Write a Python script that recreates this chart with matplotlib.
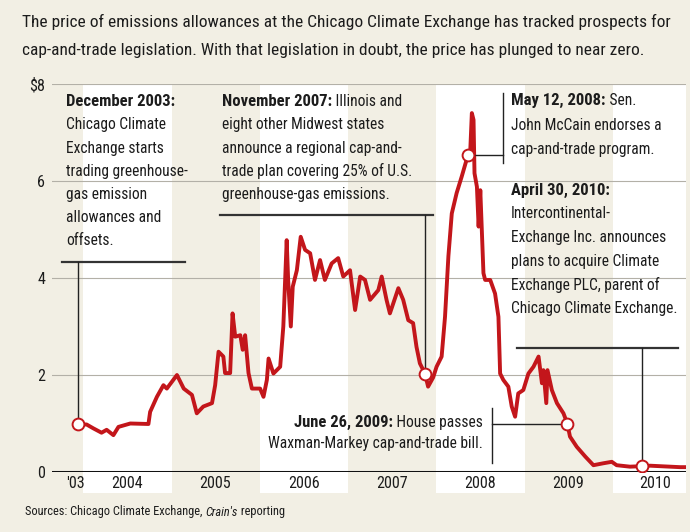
import datetime as dt

import matplotlib
matplotlib.use("Agg")
import matplotlib.pyplot as plt
from matplotlib import font_manager

# ---- data ----
dates = ['2003-12-12', '2004-01-15', '2004-02-12', '2004-03-17', '2004-04-07', '2004-05-05',
         '2004-05-26', '2004-07-14', '2004-09-27', '2004-10-04', '2004-11-01', '2004-11-28',
         '2004-12-12', '2005-01-23', '2005-02-20', '2005-03-26', '2005-04-15', '2005-05-12',
         '2005-06-17', '2005-06-30', '2005-07-14', '2005-08-03', '2005-08-10', '2005-08-31',
         '2005-09-10', '2005-09-21', '2005-10-12', '2005-10-22', '2005-11-01', '2005-11-15',
         '2005-11-29', '2006-01-02', '2006-01-16', '2006-01-30', '2006-02-06', '2006-02-26',
         '2006-03-26', '2006-04-08', '2006-04-22', '2006-04-28', '2006-05-09', '2006-05-17',
         '2006-06-03', '2006-06-19', '2006-07-07', '2006-07-28', '2006-08-17', '2006-09-07',
         '2006-09-27', '2006-10-25', '2006-11-21', '2006-12-12', '2007-01-09', '2007-01-30',
         '2007-02-20', '2007-03-12', '2007-04-02', '2007-05-06', '2007-05-20', '2007-06-09',
         '2007-06-23', '2007-07-28', '2007-08-17', '2007-09-07', '2007-09-27', '2007-10-11',
         '2007-10-25', '2007-11-15', '2007-11-28', '2007-12-19', '2008-01-02', '2008-01-23',
         '2008-02-06', '2008-02-20', '2008-03-05', '2008-03-25', '2008-04-15', '2008-05-03',
         '2008-05-12', '2008-05-20', '2008-05-27', '2008-06-03', '2008-06-07', '2008-06-17',
         '2008-06-24', '2008-07-01', '2008-07-14', '2008-07-21', '2008-08-11', '2008-08-31',
         '2008-09-14', '2008-09-21', '2008-10-04', '2008-10-25', '2008-11-08', '2008-11-22',
         '2008-12-05', '2008-12-26', '2009-01-16', '2009-02-06', '2009-02-27', '2009-03-13',
         '2009-03-19', '2009-03-31', '2009-04-05', '2009-04-23', '2009-05-14', '2009-06-10',
         '2009-06-26', '2009-07-07', '2009-08-04', '2009-09-08', '2009-10-12', '2009-11-22',
         '2009-12-27', '2010-01-16', '2010-03-12', '2010-04-30', '2010-06-03', '2010-10-05',
         '2010-10-28']
prices = [0.98, 0.98, 0.90, 0.81, 0.87, 0.76,
          0.93, 1.00, 0.99, 1.24, 1.55, 1.79,
          1.72, 2.00, 1.72, 1.59, 1.21, 1.35,
          1.42, 1.79, 2.48, 2.38, 2.04, 2.04,
          3.27, 2.79, 2.82, 2.52, 2.82, 2.04,
          1.72, 1.72, 1.55, 1.90, 2.34, 2.03,
          2.17, 3.00, 4.78, 3.96, 3.00, 3.82,
          4.16, 4.85, 4.58, 4.51, 3.96, 4.37,
          3.96, 4.30, 4.41, 4.03, 4.16, 3.34,
          4.03, 3.96, 3.55, 3.75, 4.03, 3.55,
          3.27, 3.79, 3.55, 3.13, 3.07, 2.58,
          2.24, 2.03, 1.76, 1.95, 2.17, 2.38,
          3.20, 4.45, 5.33, 5.75, 6.09, 6.40,
          6.54, 6.57, 7.40, 7.26, 6.16, 5.88,
          5.06, 5.81, 4.10, 3.96, 3.96, 3.68,
          3.20, 2.03, 1.90, 1.76, 1.35, 1.14,
          1.62, 1.69, 2.03, 2.17, 2.38, 1.83,
          2.10, 1.42, 2.10, 1.69, 1.42, 1.21,
          1.00, 0.73, 0.52, 0.32, 0.14, 0.18,
          0.21, 0.14, 0.11, 0.12, 0.13, 0.10,
          0.10]

event_dates = ['2003-12-12', '2007-11-15', '2008-05-12', '2009-06-26', '2010-04-30']
event_values = [0.98, 2.03, 6.54, 1.00, 0.12]

year_tick_dates = ['2003-11-28', '2004-07-01', '2005-07-01', '2006-07-01', '2007-07-01',
                   '2008-07-01', '2009-07-01', '2010-06-25']
year_tick_labels = ["'03", '2004', '2005', '2006', '2007', '2008', '2009', '2010']
band_years = [2004, 2006, 2008, 2010]
y_ticks = [0, 2, 4, 6, 8]
y_tick_labels = ['0', '2', '4', '6', '$8']

title_lines = ['The price of emissions allowances at the Chicago Climate Exchange has tracked prospects for',
               'cap-and-trade legislation. With that legislation in doubt, the price has plunged to near zero.']


def d(s):
    return dt.datetime.strptime(s, '%Y-%m-%d')


# ---- font: prefer a condensed face if one is installed ----
fm = font_manager.fontManager
FONT, STRETCH = 'DejaVu Sans', 'normal'
narrow = [f for f in fm.ttflist
          if f.stretch in ('condensed', 'semi-condensed', 'extra-condensed')
          or 'Narrow' in f.name or 'Condensed' in f.name]
for fam in ['Liberation Sans Narrow', 'Roboto Condensed', 'Open Sans Condensed',
            'Noto Sans Condensed', 'Roboto', 'Open Sans', 'Noto Sans', 'DejaVu Sans']:
    hit = [f for f in narrow if f.name == fam]
    if hit:
        FONT = fam
        STRETCH = hit[0].stretch if hit[0].stretch != 'normal' else 'normal'
        break
plt.rcParams['font.family'] = [FONT, 'DejaVu Sans']
plt.rcParams['font.stretch'] = STRETCH

BG = '#f2efe4'
RED = '#c3161b'
INK = '#1c1c1c'

fig = plt.figure(figsize=(6.9, 5.32), dpi=100, facecolor=BG)

# scale every font size so the title line is as wide as in the reference (646 px)
probe = fig.text(0, 0, title_lines[0], fontsize=13)
w = probe.get_window_extent(fig.canvas.get_renderer()).width
probe.remove()
k = 646.0 / w
TITLE_FS = 13 * k
BODY_FS = 11.6 * k
HEAD_FS = 12.4 * k
TICK_FS = 12 * k
SRC_FS = 9.2 * k

ax = fig.add_axes([52 / 690, 60 / 532, 634 / 690, 388 / 532])
ax.set_facecolor(BG)
xmin, xmax = d('2003-08-25'), d('2010-10-30')
ax.set_xlim(xmin, xmax)
ax.set_ylim(0, 8)
for sp in ax.spines.values():
    sp.set_visible(False)

# alternating white year bands, running down behind the year labels
for yr in band_years:
    end = min(dt.datetime(yr + 1, 1, 1), xmax)
    ax.axvspan(dt.datetime(yr, 1, 1), end, ymin=-0.055, ymax=1.0,
               color='white', lw=0, zorder=0, clip_on=False)

ax.set_axisbelow(True)
ax.set_yticks(y_ticks)
ax.set_yticklabels(y_tick_labels)
ax.grid(axis='y', color='#b3b0a7', lw=0.8)
ax.axhline(0, color='#111111', lw=2.2, zorder=3)

ax.set_xticks([d(s) for s in year_tick_dates])
ax.set_xticklabels(year_tick_labels)
ax.tick_params(axis='both', length=0, labelsize=TICK_FS, colors=INK)
ax.tick_params(axis='y', pad=5)
ax.tick_params(axis='x', pad=3)

ax.plot([d(s) for s in dates], prices, color=RED, lw=2.8,
        solid_joinstyle='round', zorder=4)

# ---- leader lines ----
lead = dict(color='#222222', lw=1.0, zorder=5)
under = dict(color='#333333', lw=1.6, zorder=5)
ev = [d(s) for s in event_dates]

# December 2003
ax.plot([d('2003-10-06'), d('2005-02-25')], [4.33, 4.33], **under)
ax.plot([ev[0], ev[0]], [4.33, event_values[0]], **lead)
# November 2007
ax.plot([d('2005-07-20'), d('2007-12-18')], [5.30, 5.30], **under)
ax.plot([ev[1], ev[1]], [5.30, event_values[1]], **lead)
# May 12, 2008
ax.plot([d('2008-10-03'), d('2008-10-03')], [6.37, 7.81], **lead)
ax.plot([ev[2], d('2008-10-03')], [event_values[2], event_values[2]], **lead)
# June 26, 2009
ax.plot([d('2008-08-18'), d('2008-08-18')], [0.19, 1.32], **lead)
ax.plot([d('2008-08-18'), ev[3]], [event_values[3], event_values[3]], **lead)
# April 30, 2010
ax.plot([d('2008-11-30'), d('2010-09-26')], [2.56, 2.56], **under)
ax.plot([ev[4], ev[4]], [2.56, event_values[4]], **lead)

ax.plot(ev, event_values, 'o', ms=8.5, mfc='white', mec=RED, mew=1.4, zorder=6)


def note(x, y, head, tail, lines, step, ha='left'):
    txt = dict(fontsize=BODY_FS, color=INK, zorder=7)
    if ha == 'left':
        h = ax.text(x, y, head, ha='left', va='center', fontweight='bold',
                    fontsize=HEAD_FS, color=INK, zorder=7)
        if tail:
            ax.annotate(tail, xy=(1, 0), xycoords=h, ha='left', va='bottom', **txt)
    else:
        t = ax.text(x, y, tail, ha='right', va='center', **txt)
        ax.annotate(head, xy=(0, 0), xycoords=t, ha='right', va='bottom',
                    fontweight='bold', fontsize=HEAD_FS, color=INK, zorder=7)
    for i, line in enumerate(lines, 1):
        ax.text(x, y - i * step, line, ha=ha, va='center', **txt)


note(d('2003-10-22'), 7.63, 'December 2003:', '',
     ['Chicago Climate', 'Exchange starts', 'trading greenhouse-', 'gas emission',
      'allowances and', 'offsets.'], 0.475)
note(d('2005-07-28'), 7.63, 'November 2007:', ' Illinois and',
     ['eight other Midwest states', 'announce a regional cap-and-',
      'trade plan covering 25% of U.S.', 'greenhouse-gas emissions.'], 0.475)
note(d('2008-11-05'), 7.65, 'May 12, 2008:', ' Sen.',
     ['John McCain endorses a', 'cap-and-trade program.'], 0.50)
note(d('2008-11-05'), 5.81, 'April 30, 2010:', '',
     ['Intercontinental-', 'Exchange Inc. announces', 'plans to acquire Climate',
      'Exchange PLC, parent of', 'Chicago Climate Exchange.'], 0.487)
note(d('2008-07-12'), 1.03, 'June 26, 2009:', ' House passes',
     ['Waxman-Markey cap-and-trade bill.'], 0.44, ha='right')

# ---- title and source ----
fig.text(22 / 690, 1 - 22 / 532, title_lines[0], fontsize=TITLE_FS, color=INK, va='center')
fig.text(22 / 690, 1 - 50 / 532, title_lines[1], fontsize=TITLE_FS, color=INK, va='center')

s1 = fig.text(25 / 690, 1 - 512 / 532, 'Sources: Chicago Climate Exchange, ',
              fontsize=SRC_FS, color=INK, va='center')
a2 = ax.annotate("Crain's", xy=(1, 0), xycoords=s1, ha='left', va='bottom',
                 fontsize=SRC_FS, color=INK, style='italic', annotation_clip=False)
ax.annotate(' reporting', xy=(1, 0), xycoords=a2, ha='left', va='bottom',
            fontsize=SRC_FS, color=INK, annotation_clip=False)

fig.savefig('out.png', dpi=100, facecolor=BG)
